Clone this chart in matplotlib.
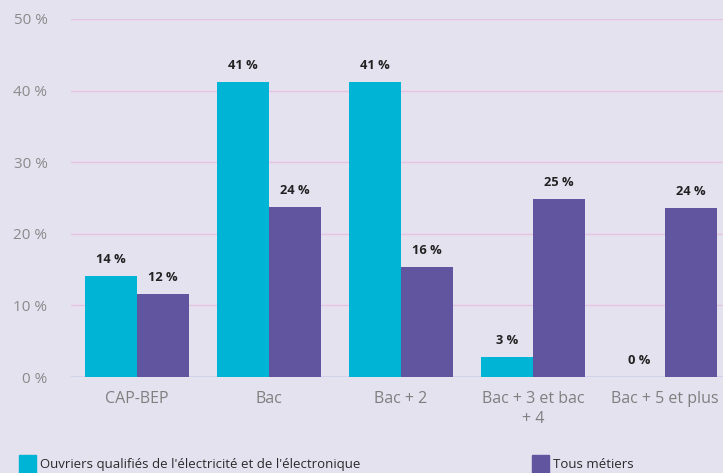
import numpy as np
import matplotlib.pyplot as plt
from matplotlib.patches import Rectangle

plt.rcParams["font.family"] = ["Open Sans", "DejaVu Sans"]

categories = ["CAP-BEP", "Bac", "Bac + 2", "Bac + 3 et bac\n+ 4", "Bac + 5 et plus"]
ouvriers = [14.1, 41.2, 41.2, 2.8, 0.0]
ouvriers_labels = ["14 %", "41 %", "41 %", "3 %", "0 %"]
tous = [11.6, 23.7, 15.4, 24.9, 23.6]
tous_labels = ["12 %", "24 %", "16 %", "25 %", "24 %"]
series_names = ["Ouvriers qualifiés de l'électricité et de l'électronique", "Tous métiers"]
yticks = [0, 10, 20, 30, 40, 50]

bg = "#E5E2F0"
cyan = "#00B4D6"
purple = "#6155A0"
grid = "#E6C3E2"

W, H = 723, 473
fig = plt.figure(figsize=(W / 100, H / 100), dpi=100, facecolor=bg)
ax = fig.add_axes([71 / W, 1 - 377 / H, 1 - 71 / W, (377 - 19) / H])
ax.set_facecolor(bg)

x = np.arange(len(categories))
w = 0.394
b1 = ax.bar(x - w / 2, ouvriers, w, color=cyan, zorder=3)
b2 = ax.bar(x + w / 2, tous, w, color=purple, zorder=3)

for bars, labels in ((b1, ouvriers_labels), (b2, tous_labels)):
    for rect, lab in zip(bars, labels):
        ax.annotate(lab, (rect.get_x() + rect.get_width() / 2, rect.get_height()),
                    xytext=(0, 12), textcoords="offset points", ha="center", va="center",
                    fontsize=9.3, fontweight="bold", color="#222222")

ax.set_xlim(-0.5, 4.44)
ax.set_ylim(0, 50)
ax.set_yticks(yticks)
ax.set_yticklabels([f"{v} %" for v in yticks])
ax.set_xticks(x)
ax.set_xticklabels(categories)
ax.grid(axis="y", color=grid, linewidth=1, zorder=0)
ax.axhline(0, color="#CCD0EA", linewidth=1.2, zorder=2)
for s in ax.spines.values():
    s.set_visible(False)
ax.tick_params(axis="y", length=0, pad=17, labelsize=11, labelcolor="#8A8A8A")
ax.tick_params(axis="x", length=0, pad=10, labelsize=11.5, labelcolor="#7F7F7F")
for t in ax.get_xticklabels():
    t.set_linespacing(1.35)

# legend
for (px, col, name) in ((19, cyan, series_names[0]), (532, purple, series_names[1])):
    fig.add_artist(Rectangle((px / W, 0), 17 / W, 18 / H, transform=fig.transFigure,
                             color=col, clip_on=False))
    fig.text((px + 21) / W, 1 - 464 / H, name, ha="left", va="center",
             fontsize=9.5, color="#2A2A2A")

fig.savefig("out.png", dpi=100, facecolor=bg)
